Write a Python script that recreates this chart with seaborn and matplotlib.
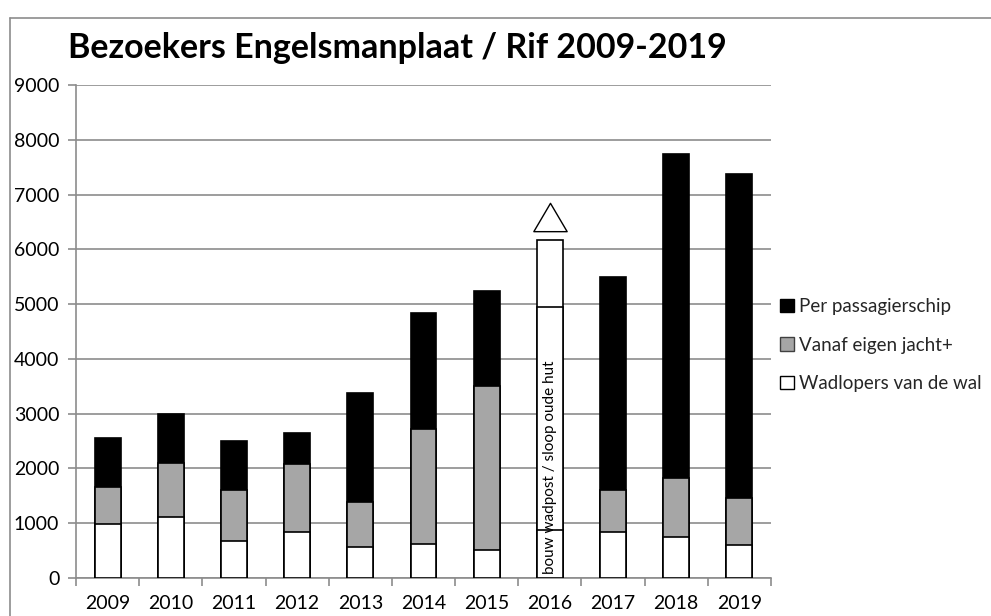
import numpy as np
import pandas as pd
import matplotlib
matplotlib.use("Agg")
import matplotlib.pyplot as plt
from matplotlib.patches import Patch
from matplotlib.lines import Line2D
from matplotlib.path import Path
import seaborn as sns

years = ["2009", "2010", "2011", "2012", "2013", "2014", "2015", "2016", "2017", "2018", "2019"]
wadlopers = [990, 1115, 675, 840, 565, 615, 510, 870, 843, 750, 600]
eigen_jacht = [670, 985, 930, 1240, 825, 2105, 3000, 4080, 762, 1070, 855]
passagierschip = [895, 900, 895, 565, 1985, 2115, 1730, 1220, 3885, 5920, 5920]
series_names = ["Per passagierschip", "Vanaf eigen jacht+", "Wadlopers van de wal"]
special_year = "2016"
special_text = "bouw wadpost / sloop oude hut"
title = "Bezoekers Engelsmanplaat / Rif 2009-2019"

sns.set_theme(style="white")
plt.rcParams["font.family"] = ["Lato", "DejaVu Sans"]

df = pd.DataFrame({"year": years, "w": wadlopers, "j": eigen_jacht, "p": passagierschip})
df["c1"] = df["w"]
df["c2"] = df["w"] + df["j"]
df["c3"] = df["c2"] + df["p"]

fig = plt.figure(figsize=(9.91, 6.16), dpi=100)
ax = fig.add_axes([76 / 991, 38 / 616, 695 / 991, 493 / 616])

def pal(color):
    return {y: ("white" if y == special_year else color) for y in years}

bw = 0.41
for col, color in [("c3", "black"), ("c2", "#A6A6A6"), ("c1", "white")]:
    sns.barplot(data=df, x="year", y=col, hue="year", palette=pal(color), legend=False,
                width=bw, edgecolor="black", linewidth=1.2, ax=ax, zorder=3, saturation=1)

ax.set_ylim(0, 9000)
ax.set_xlim(-0.5, len(years) - 0.5)
ax.set_yticks(np.arange(0, 9001, 1000))
ax.yaxis.grid(True, color="#8c8c8c", linewidth=1.2, zorder=0)
ax.set_axisbelow(True)
ax.set_xlabel("")
ax.set_ylabel("")
for s in ["top", "right"]:
    ax.spines[s].set_visible(False)
for s in ["left", "bottom"]:
    ax.spines[s].set_color("#8c8c8c")
    ax.spines[s].set_linewidth(1.2)
ax.tick_params(axis="y", which="major", direction="out", length=6, width=1.2,
               color="#8c8c8c", labelsize=14, pad=6, left=True)
ax.tick_params(axis="x", which="major", length=0, labelsize=14, pad=12)
ax.set_xticks(np.arange(-0.5, len(years), 1.0), minor=True)
ax.tick_params(axis="x", which="minor", direction="out", length=6, width=1.2,
               color="#8c8c8c", bottom=True)
for lab in ax.get_yticklabels() + ax.get_xticklabels():
    lab.set_color("black")

# annotation in the special bar
si = years.index(special_year)
ax.text(si, 80, special_text, rotation=90, ha="center", va="bottom",
        fontsize=11, color="black", zorder=5)
tri = Path([(0, 0.85), (-1, -0.85), (1, -0.85), (0, 0.85)],
           [Path.MOVETO, Path.LINETO, Path.LINETO, Path.CLOSEPOLY])
ax.plot([si], [df["c3"][si] + 420], marker=tri, markersize=24, markerfacecolor="white",
        markeredgecolor="black", markeredgewidth=1.0, linestyle="none", zorder=5, clip_on=False)

# legend
handles = [Patch(facecolor="black", edgecolor="black", linewidth=1),
           Patch(facecolor="#A6A6A6", edgecolor="#404040", linewidth=1),
           Patch(facecolor="white", edgecolor="black", linewidth=1)]
fig.legend(handles, series_names, loc="center left", bbox_to_anchor=(772 / 991, 1 - 345 / 616),
           frameon=False, fontsize=13.5, handlelength=0.75, handleheight=0.75,
           handletextpad=0.3, labelspacing=1.15, borderaxespad=0)

fig.text(68 / 991, 1 - 48 / 616, title, fontsize=24.5, fontweight="bold",
         ha="left", va="center", color="black")

# chart frame
fig.add_artist(Line2D([10 / 991, 10 / 991], [0, 1 - 18 / 616], color="#8c8c8c", linewidth=1.2))
fig.add_artist(Line2D([10 / 991, 1], [1 - 18 / 616, 1 - 18 / 616], color="#8c8c8c", linewidth=1.2))

fig.savefig("out.png", dpi=100)
